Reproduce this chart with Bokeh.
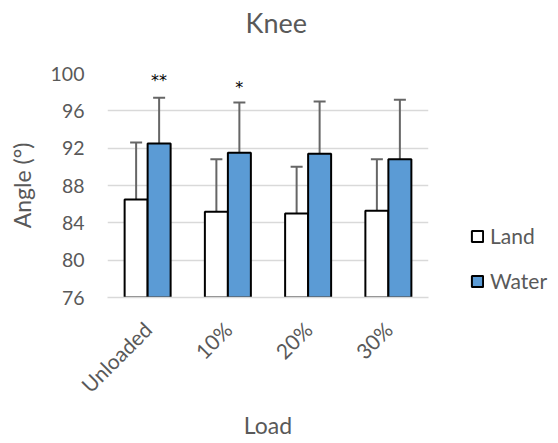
import math
from bokeh.plotting import figure
from bokeh.models import (ColumnDataSource, Range1d, FixedTicker, Whisker, TeeHead,
                          Legend, LegendItem, Title)
from bokeh.transform import dodge
from bokeh.core.properties import value
from bokeh.embed import file_html
from bokeh.resources import INLINE

loads = ["Unloaded", "10%", "20%", "30%"]
land = [86.5, 85.2, 85.0, 85.3]
land_sd = [6.1, 5.6, 5.0, 5.5]
water = [92.5, 91.5, 91.4, 90.8]
water_sd = [4.9, 5.4, 5.6, 6.4]
sig_loads = ["Unloaded", "10%"]
sig_labels = ["**", "*"]
sig_y = [99.2, 98.45]
y_ticks = [76, 80, 84, 88, 92, 96, 100]
y_min, y_max = 76, 100

FONT = "Lato"
GREY = "#595959"
BAR_W = 0.2866
OFF = BAR_W / 2

src = ColumnDataSource(dict(
    load=loads, land=land, water=water,
    land_hi=[v + s for v, s in zip(land, land_sd)],
    water_hi=[v + s for v, s in zip(water, water_sd)],
))
sig_src = ColumnDataSource(dict(load=sig_loads, label=sig_labels, y=sig_y))

p = figure(x_range=loads, y_range=Range1d(y_min, y_max), frame_width=321, frame_height=224,
           output_backend="svg", toolbar_location=None,
           min_border_left=107, min_border_right=130, min_border_top=73, min_border_bottom=146)

r_land = p.vbar(x=dodge("load", -OFF, range=p.x_range), top="land", bottom=y_min, width=BAR_W,
                source=src, fill_color="white", line_color="black", line_width=2)
r_water = p.vbar(x=dodge("load", OFF, range=p.x_range), top="water", bottom=y_min, width=BAR_W,
                 source=src, fill_color="#5B9BD5", line_color="black", line_width=2)

for col, hi, off in (("land", "land_hi", -OFF), ("water", "water_hi", OFF)):
    w = Whisker(source=src, base=dodge("load", off, range=p.x_range), lower=col, upper=hi,
                line_color="#666666", line_width=2,
                upper_head=TeeHead(size=12, line_color="#666666", line_width=2),
                lower_head=None)
    p.add_layout(w)

p.text(x=dodge("load", OFF, range=p.x_range), y="y", text="label", source=sig_src,
       text_font=value("DejaVu Sans"), text_font_size=value("16px"), text_align="center",
       text_baseline="alphabetic", text_color="black")

# spacer between frame and title (nearest to frame), then the title itself
spacer = Title(text=" ", text_font_size="1px", standoff=30)
p.add_layout(spacer, "above")
title = Title(text="Knee", text_font=FONT, text_font_size="27px", text_font_style="normal",
              text_color=GREY, align="left", offset=138, vertical_align="top", standoff=0)
p.add_layout(title, "above")

p.xaxis.axis_label = "Load"
p.yaxis.axis_label = "Angle (°)"
for ax in (p.xaxis, p.yaxis):
    ax.axis_label_text_font = FONT
    ax.axis_label_text_font_size = "23px"
    ax.axis_label_text_font_style = "normal"
    ax.axis_label_text_color = GREY
    ax.major_label_text_font = FONT
    ax.major_label_text_color = GREY
    ax.major_tick_line_color = None
    ax.minor_tick_line_color = None
    ax.major_tick_out = 0
    ax.major_tick_in = 0

p.yaxis.major_label_text_font_size = "19.5px"
p.xaxis.major_label_text_font_size = "21px"
p.xaxis.major_label_orientation = math.pi / 4
p.xaxis.axis_line_color = "#d9d9d9"
p.xaxis.axis_line_width = 1.5
p.xaxis.major_label_standoff = 28
p.xaxis.axis_label_standoff = 2

p.yaxis.ticker = FixedTicker(ticks=y_ticks)
p.yaxis.axis_line_color = None
p.yaxis.major_label_standoff = 23
p.yaxis.axis_label_standoff = 12

p.xgrid.grid_line_color = None
p.ygrid.grid_line_color = "#d9d9d9"
p.ygrid.grid_line_width = 1.5
p.outline_line_color = None

legend = Legend(items=[LegendItem(label="Land", renderers=[r_land]),
                       LegendItem(label="Water", renderers=[r_water])],
                location=(42, 4), orientation="vertical", padding=0, margin=0,
                spacing=20, glyph_width=14, glyph_height=14, label_standoff=6,
                label_text_font=FONT, label_text_font_size="21px", label_text_color=GREY,
                border_line_color=None, background_fill_alpha=0)
p.add_layout(legend, "right")

open("out.html", "w").write(file_html(p, INLINE))
